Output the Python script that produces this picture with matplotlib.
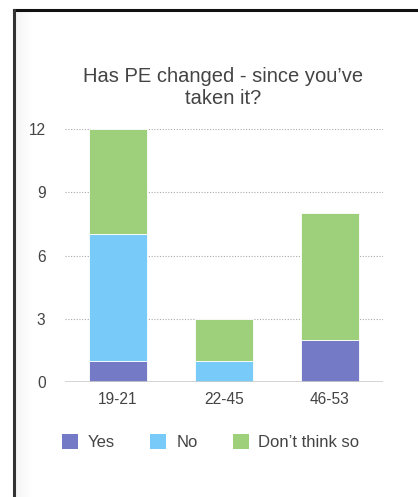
import numpy as np
import matplotlib
matplotlib.use('Agg')
import matplotlib.pyplot as plt
from matplotlib.patches import Patch

plt.rcParams['font.family'] = ['Liberation Sans', 'DejaVu Sans']

# survey answers per age group
age_groups = ['19-21', '22-45', '46-53']
answers = ['Yes', 'No', 'Don\u2019t think so']
yes_counts = [1, 0, 2]
no_counts = [6, 1, 0]
dont_counts = [5, 2, 6]
y_ticks = [0, 3, 6, 9, 12]

colors = ['#747ac6', '#78cbf9', '#9ecf7a']
text_col = '#444444'

W, H = 418, 497
fig = plt.figure(figsize=(W / 100, H / 100), dpi=100)
fig.patch.set_facecolor('white')

# soft shade along the left frame edge
shade = fig.add_axes([15 / W, 0, 18 / W, 487 / H])
grad = np.linspace(0.955, 1.0, 64).reshape(1, -1)
shade.imshow(grad, cmap='gray', vmin=0, vmax=1, aspect='auto', extent=[0, 1, 0, 1])
shade.axis('off')

# frame lines (top and left)
fig.add_artist(plt.Line2D([13.5 / W, 1], [1 - 10 / H, 1 - 10 / H], color='#111111', lw=2.2))
fig.add_artist(plt.Line2D([14 / W, 14 / W], [0, 1 - 10 / H], color='#333333', lw=2.2))

ax = fig.add_axes([65 / W, 1 - 382 / H, 318 / W, 253 / H])
x = np.arange(len(age_groups))
bw = 0.556
series = [yes_counts, no_counts, dont_counts]
bottom = np.zeros(len(age_groups))
for vals, c in zip(series, colors):
    ax.bar(x, vals, bw, bottom=bottom, color=c, edgecolor='white', linewidth=0.6, zorder=3)
    bottom += np.array(vals)

ax.set_xlim(-0.5, 2.5)
ax.set_ylim(0, 12)
ax.set_yticks(y_ticks)
ax.set_xticks(x)
ax.set_xticklabels(age_groups)
for y in y_ticks[1:]:
    ax.axhline(y, color='#aaaaaa', lw=0.8, ls=(0, (1, 1.5)), zorder=1)
ax.axhline(0, color='#cccccc', lw=1.2, zorder=4)
for s in ax.spines.values():
    s.set_visible(False)
ax.tick_params(axis='both', length=0, colors=text_col, labelsize=11.2)
ax.tick_params(axis='y', pad=14)
ax.tick_params(axis='x', pad=7)

fig.text(223 / W, 1 - 76 / H, 'Has PE changed - since you\u2019ve', ha='center', va='center',
         fontsize=14.5, color=text_col)
fig.text(223 / W, 1 - 98 / H, 'taken it?', ha='center', va='center',
         fontsize=14.5, color=text_col)

handles = [Patch(facecolor=c, edgecolor='none') for c in colors]
fig.legend(handles, answers, loc='center left', bbox_to_anchor=(47 / W, 1 - 442 / H),
           ncol=3, frameon=False, fontsize=12, labelcolor=text_col,
           handlelength=0.96, handleheight=0.96, handletextpad=0.6, columnspacing=2.1)

fig.savefig('out.png', dpi=100)
